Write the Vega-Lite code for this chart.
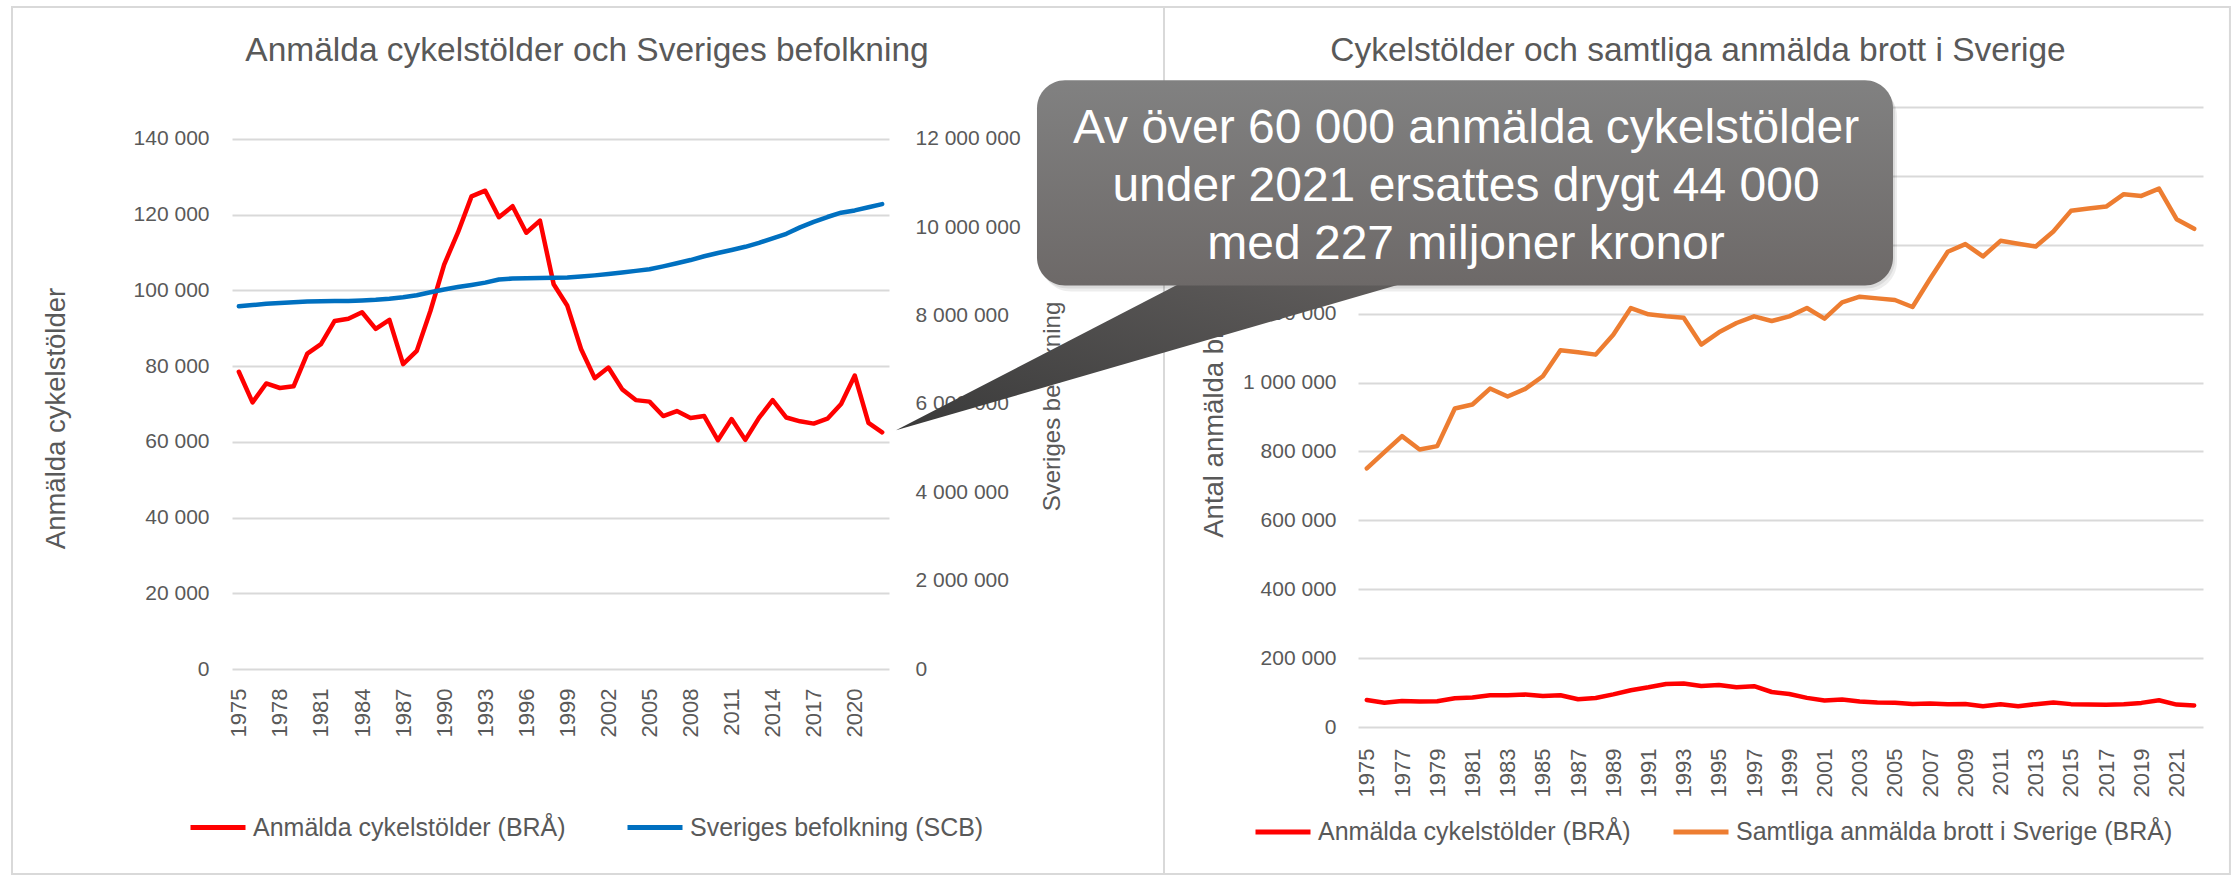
{
  "$schema": "https://vega.github.io/schema/vega-lite/v6.json",
  "background": "white",
  "padding": {"left": 11, "top": 5, "right": 0, "bottom": 0},
  "autosize": {"type": "pad"},
  "config": {
    "font": "Liberation Sans",
    "view": {"stroke": null},
    "locale": {"number": {"decimal": ",", "thousands": " ", "grouping": [3], "currency": ["", " kr"]}},
    "axis": {"labelColor": "#595959", "titleColor": "#595959", "labelFont": "Liberation Sans", "titleFont": "Liberation Sans", "titleFontWeight": "normal", "domain": false, "ticks": false, "gridColor": "#d9d9d9", "gridWidth": 2, "labelOverlap": false, "labelFlush": false},
    "legend": {"labelColor": "#595959", "labelFont": "Liberation Sans"}
  },
  "datasets": {
    "d": [
      {"year": 1975, "theft": 78500, "pop": 8208000, "total": 750800},
      {"year": 1976, "theft": 70400, "pop": 8236000, "total": 798100},
      {"year": 1977, "theft": 75400, "pop": 8267000, "total": 844500},
      {"year": 1978, "theft": 74200, "pop": 8284000, "total": 805800},
      {"year": 1979, "theft": 74650, "pop": 8303000, "total": 815500},
      {"year": 1980, "theft": 83300, "pop": 8318000, "total": 924700},
      {"year": 1981, "theft": 85800, "pop": 8323000, "total": 936200},
      {"year": 1982, "theft": 91900, "pop": 8327000, "total": 982600},
      {"year": 1983, "theft": 92500, "pop": 8331000, "total": 959400},
      {"year": 1984, "theft": 94200, "pop": 8343000, "total": 981600},
      {"year": 1985, "theft": 89800, "pop": 8358000, "total": 1018400},
      {"year": 1986, "theft": 92200, "pop": 8382000, "total": 1093700},
      {"year": 1987, "theft": 80500, "pop": 8414000, "total": 1087900},
      {"year": 1988, "theft": 84000, "pop": 8459000, "total": 1081100},
      {"year": 1989, "theft": 94600, "pop": 8527000, "total": 1139100},
      {"year": 1990, "theft": 106800, "pop": 8591000, "total": 1216400},
      {"year": 1991, "theft": 115200, "pop": 8644000, "total": 1198000},
      {"year": 1992, "theft": 124800, "pop": 8692000, "total": 1192200},
      {"year": 1993, "theft": 126300, "pop": 8745000, "total": 1188400},
      {"year": 1994, "theft": 119300, "pop": 8816000, "total": 1110100},
      {"year": 1995, "theft": 122200, "pop": 8837000, "total": 1145900},
      {"year": 1996, "theft": 115200, "pop": 8844000, "total": 1172900},
      {"year": 1997, "theft": 118400, "pop": 8848000, "total": 1192200},
      {"year": 1998, "theft": 101600, "pop": 8854000, "total": 1178700},
      {"year": 1999, "theft": 95900, "pop": 8861000, "total": 1192200},
      {"year": 2000, "theft": 84500, "pop": 8883000, "total": 1216400},
      {"year": 2001, "theft": 76800, "pop": 8909000, "total": 1185500},
      {"year": 2002, "theft": 79600, "pop": 8941000, "total": 1232800},
      {"year": 2003, "theft": 73900, "pop": 8976000, "total": 1249200},
      {"year": 2004, "theft": 71000, "pop": 9011000, "total": 1244400},
      {"year": 2005, "theft": 70600, "pop": 9048000, "total": 1239600},
      {"year": 2006, "theft": 66800, "pop": 9113000, "total": 1219300},
      {"year": 2007, "theft": 68100, "pop": 9183000, "total": 1301400},
      {"year": 2008, "theft": 66300, "pop": 9256000, "total": 1379600},
      {"year": 2009, "theft": 66800, "pop": 9341000, "total": 1401900},
      {"year": 2010, "theft": 60400, "pop": 9416000, "total": 1366100},
      {"year": 2011, "theft": 66000, "pop": 9483000, "total": 1411500},
      {"year": 2012, "theft": 60500, "pop": 9556000, "total": 1402800},
      {"year": 2013, "theft": 66300, "pop": 9645000, "total": 1395100},
      {"year": 2014, "theft": 71000, "pop": 9747000, "total": 1438600},
      {"year": 2015, "theft": 66400, "pop": 9851000, "total": 1498500},
      {"year": 2016, "theft": 65400, "pop": 9995000, "total": 1505200},
      {"year": 2017, "theft": 64800, "pop": 10120000, "total": 1511000},
      {"year": 2018, "theft": 66100, "pop": 10230000, "total": 1546800},
      {"year": 2019, "theft": 70000, "pop": 10328000, "total": 1541900},
      {"year": 2020, "theft": 77500, "pop": 10379000, "total": 1563200},
      {"year": 2021, "theft": 65000, "pop": 10452000, "total": 1474300},
      {"year": 2022, "theft": 62500, "pop": 10522000, "total": 1446300}
    ]
  },
  "bounds": "flush",
  "spacing": 469,
  "resolve": {"scale": {"x": "independent", "y": "independent", "color": "independent"}, "legend": {"color": "independent"}},
  "hconcat": [
    {
      "width": 657,
      "height": 562,
      "layer": [
        {
          "data": {"name": "d"},
          "mark": {"type": "line", "color": "#FF0000", "strokeWidth": 4.5, "strokeJoin": "round", "strokeCap": "round"},
          "encoding": {
            "x": {"field": "year", "type": "quantitative", "scale": {"domain": [1974.5, 2022.5], "nice": false, "zero": false},
              "axis": {"values": [1975, 1978, 1981, 1984, 1987, 1990, 1993, 1996, 1999, 2002, 2005, 2008, 2011, 2014, 2017, 2020], "format": "d", "labelAngle": 270, "labelFontSize": 22, "labelPadding": 19, "labelOverlap": false, "grid": false, "title": null}},
            "y": {"field": "theft", "type": "quantitative", "scale": {"domain": [0, 148400], "nice": false, "zero": false},
              "axis": {"orient": "left", "values": [0, 20000, 40000, 60000, 80000, 100000, 120000, 140000], "format": ",d", "labelFontSize": 21, "labelPadding": 23, "labelOverlap": false, "grid": true, "title": "Anmälda cykelstölder", "titleFontSize": 27.5, "titleAngle": 270, "titleX": -176, "titleY": 311, "titleBaseline": "middle", "titleAlign": "center"}},
            "color": {"datum": "Anmälda cykelstölder (BRÅ)", "type": "nominal",
              "scale": {"domain": ["Anmälda cykelstölder (BRÅ)", "Sveriges befolkning (SCB)"], "range": ["#FF0000", "#0070C0"]},
              "legend": {"orient": "none", "legendX": -44, "legendY": 690.5, "direction": "horizontal", "title": null, "symbolType": "stroke", "symbolSize": 3025, "symbolStrokeWidth": 5, "labelFontSize": 25, "labelOffset": 5, "columnPadding": 51, "padding": 0, "labelLimit": 0}}
          }
        },
        {
          "data": {"name": "d"},
          "mark": {"type": "line", "color": "#0070C0", "strokeWidth": 4.5, "strokeJoin": "round", "strokeCap": "round"},
          "encoding": {
            "x": {"field": "year", "type": "quantitative", "scale": {"domain": [1974.5, 2022.5], "nice": false, "zero": false}, "axis": null},
            "y": {"field": "pop", "type": "quantitative", "scale": {"domain": [0, 12720000], "nice": false, "zero": false},
              "axis": {"orient": "right", "values": [0, 2000000, 4000000, 6000000, 8000000, 10000000, 12000000], "format": ",d", "labelFontSize": 21, "labelPadding": 26, "labelOverlap": false, "grid": false, "title": "Sveriges befolkning", "titleFontSize": 24, "titleAngle": 270, "titleX": 163, "titleY": 299, "titleBaseline": "middle", "titleAlign": "center"}},
            "color": {"datum": "Sveriges befolkning (SCB)", "type": "nominal"}
          }
        },
        {
          "data": {"values": [{}]},
          "mark": {"type": "rect", "fill": "transparent", "stroke": "#d9d9d9", "strokeWidth": 2},
          "encoding": {
            "x": {"datum": 1958.427, "type": "quantitative", "scale": {"domain": [1974.5, 2022.5], "nice": false, "zero": false}, "axis": null},
            "x2": {"datum": 2042.591},
            "y": {"datum": 174808, "type": "quantitative", "scale": {"domain": [0, 148400], "nice": false, "zero": false}, "axis": null},
            "y2": {"datum": -54132}
          }
        },
        {
          "data": {"values": [{}]},
          "mark": {"type": "text", "text": "Anmälda cykelstölder och Sveriges befolkning", "fontSize": 33.5, "color": "#595959", "align": "center", "baseline": "alphabetic", "font": "Liberation Sans"},
          "encoding": {
            "x": {"datum": 2000.436, "type": "quantitative", "scale": {"domain": [1974.5, 2022.5], "nice": false, "zero": false}, "axis": null},
            "y": {"datum": 160548, "type": "quantitative", "scale": {"domain": [0, 148400], "nice": false, "zero": false}, "axis": null}
          }
        }
      ],
      "resolve": {"scale": {"x": "independent", "y": "independent"}}
    },
    {
      "width": 845,
      "height": 620,
      "layer": [
        {
          "data": {"name": "d"},
          "mark": {"type": "line", "color": "#FF0000", "strokeWidth": 4.5, "strokeJoin": "round", "strokeCap": "round"},
          "encoding": {
            "x": {"field": "year", "type": "quantitative", "scale": {"domain": [1974.5, 2022.5], "nice": false, "zero": false},
              "axis": {"values": [1975, 1977, 1979, 1981, 1983, 1985, 1987, 1989, 1991, 1993, 1995, 1997, 1999, 2001, 2003, 2005, 2007, 2009, 2011, 2013, 2015, 2017, 2019, 2021], "format": "d", "labelAngle": 270, "labelFontSize": 22, "labelPadding": 21, "labelOverlap": false, "grid": false, "title": null}},
            "y": {"field": "theft", "type": "quantitative", "scale": {"domain": [0, 1800000], "nice": false, "zero": false},
              "axis": {"orient": "left", "values": [0, 200000, 400000, 600000, 800000, 1000000, 1200000, 1400000, 1600000, 1800000], "format": ",d", "labelFontSize": 21, "labelPadding": 22, "labelOverlap": false, "grid": true, "title": "Antal anmälda brott", "titleFontSize": 27.5, "titleAngle": 270, "titleX": -144, "titleY": 311, "titleBaseline": "middle", "titleAlign": "center"}},
            "color": {"datum": "Anmälda cykelstölder (BRÅ)", "type": "nominal",
              "scale": {"domain": ["Anmälda cykelstölder (BRÅ)", "Samtliga anmälda brott i Sverige (BRÅ)"], "range": ["#FF0000", "#ED7D31"]},
              "legend": {"orient": "none", "legendX": -105, "legendY": 695, "direction": "horizontal", "title": null, "symbolType": "stroke", "symbolSize": 3025, "symbolStrokeWidth": 5, "labelFontSize": 25, "labelOffset": 5, "columnPadding": 32, "padding": 0, "labelLimit": 0}}
          }
        },
        {
          "data": {"name": "d"},
          "mark": {"type": "line", "color": "#ED7D31", "strokeWidth": 4.5, "strokeJoin": "round", "strokeCap": "round"},
          "encoding": {
            "x": {"field": "year", "type": "quantitative", "scale": {"domain": [1974.5, 2022.5], "nice": false, "zero": false}, "axis": null},
            "y": {"field": "total", "type": "quantitative", "scale": {"domain": [0, 1800000], "nice": false, "zero": false}, "axis": null},
            "color": {"datum": "Samtliga anmälda brott i Sverige (BRÅ)", "type": "nominal"}
          }
        },
        {
          "data": {"values": [{}]},
          "mark": {"type": "rect", "fill": "transparent", "stroke": "#d9d9d9", "strokeWidth": 2},
          "encoding": {
            "x": {"datum": 1963.48, "type": "quantitative", "scale": {"domain": [1974.5, 2022.5], "nice": false, "zero": false}, "axis": null},
            "x2": {"datum": 2024.03},
            "y": {"datum": 2090300, "type": "quantitative", "scale": {"domain": [0, 1800000], "nice": false, "zero": false}, "axis": null},
            "y2": {"datum": -426770}
          }
        },
        {
          "data": {"values": [{}]},
          "mark": {"type": "text", "text": "Cykelstölder och samtliga anmälda brott i Sverige", "fontSize": 33.5, "color": "#595959", "align": "center", "baseline": "alphabetic", "font": "Liberation Sans"},
          "encoding": {
            "x": {"datum": 1993.814, "type": "quantitative", "scale": {"domain": [1974.5, 2022.5], "nice": false, "zero": false}, "axis": null},
            "y": {"datum": 1933530, "type": "quantitative", "scale": {"domain": [0, 1800000], "nice": false, "zero": false}, "axis": null}
          }
        },
        {
          "data": {"values": [{}]},
          "mark": {"type": "rect", "fill": "#000000", "opacity": 0.07, "cornerRadius": 30},
          "encoding": {
            "x": {"datum": 1956.492, "type": "quantitative", "scale": {"domain": [1974.5, 2022.5], "nice": false, "zero": false}, "axis": null},
            "x2": {"datum": 2005.118},
            "y": {"datum": 1860080, "type": "quantitative", "scale": {"domain": [0, 1800000], "nice": false, "zero": false}, "axis": null},
            "y2": {"datum": 1264340}
          }
        },
        {
          "data": {"values": [{}]},
          "mark": {"type": "rect", "fill": "#000000", "opacity": 0.08, "cornerRadius": 29},
          "encoding": {
            "x": {"datum": 1956.379, "type": "quantitative", "scale": {"domain": [1974.5, 2022.5], "nice": false, "zero": false}, "axis": null},
            "x2": {"datum": 2005.005},
            "y": {"datum": 1868790, "type": "quantitative", "scale": {"domain": [0, 1800000], "nice": false, "zero": false}, "axis": null},
            "y2": {"datum": 1273050}
          }
        },
        {
          "data": {"values": [{}]},
          "mark": {"type": "point", "shape": "M0,0 L309.4,-160 L552.2,-160 Z", "size": 4, "filled": true, "opacity": 1, "strokeWidth": 0,
            "fill": {"gradient": "linear", "x1": 1, "y1": 0, "x2": 0, "y2": 1, "stops": [{"offset": 0, "color": "#63605f"}, {"offset": 1, "color": "#3a3a3a"}]}},
          "encoding": {
            "x": {"datum": 1948.256, "type": "quantitative", "scale": {"domain": [1974.5, 2022.5], "nice": false, "zero": false}, "axis": null},
            "y": {"datum": 861380, "type": "quantitative", "scale": {"domain": [0, 1800000], "nice": false, "zero": false}, "axis": null}
          }
        },
        {
          "data": {"values": [{}]},
          "mark": {"type": "rect", "cornerRadius": 28,
            "fill": {"gradient": "linear", "x1": 0, "y1": 0, "x2": 0, "y2": 1, "stops": [{"offset": 0, "color": "#818181"}, {"offset": 1, "color": "#6d6968"}]}},
          "encoding": {
            "x": {"datum": 1956.265, "type": "quantitative", "scale": {"domain": [1974.5, 2022.5], "nice": false, "zero": false}, "axis": null},
            "x2": {"datum": 2004.891},
            "y": {"datum": 1877500, "type": "quantitative", "scale": {"domain": [0, 1800000], "nice": false, "zero": false}, "axis": null},
            "y2": {"datum": 1281760}
          }
        },
        {
          "data": {"values": [{}]},
          "mark": {"type": "text", "text": ["Av över 60 000 anmälda cykelstölder", "under 2021 ersattes drygt 44 000", "med 227 miljoner kronor"], "fontSize": 48, "lineHeight": 58, "color": "#ffffff", "align": "center", "baseline": "alphabetic", "font": "Liberation Sans"},
          "encoding": {
            "x": {"datum": 1980.635, "type": "quantitative", "scale": {"domain": [1974.5, 2022.5], "nice": false, "zero": false}, "axis": null},
            "y": {"datum": 1696320, "type": "quantitative", "scale": {"domain": [0, 1800000], "nice": false, "zero": false}, "axis": null}
          }
        }
      ],
      "resolve": {"scale": {"x": "independent", "y": "independent"}}
    }
  ]
}
